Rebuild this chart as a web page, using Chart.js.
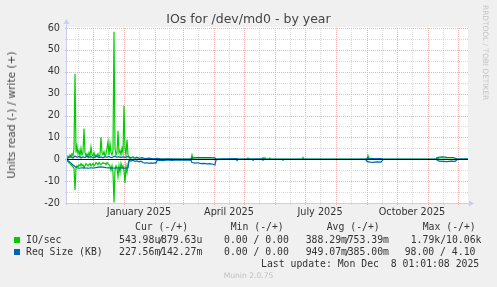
<!DOCTYPE html>
<html><head><meta charset="utf-8">
<script src="https://cdn.jsdelivr.net/npm/chart.js@4/dist/chart.umd.min.js"></script>
<style>
html,body{margin:0;padding:0;background:#f0f0f0;}
#wrap{position:relative;width:497px;height:287px;overflow:hidden;background:#f0f0f0;}
#c{position:absolute;left:0;top:0;}
.t{position:absolute;white-space:pre;margin:0;padding:0;}
</style></head><body>
<div id="wrap"><canvas id="c" width="497" height="287"></canvas></div>
<script>
// ---------- DATA (day index: 0 = left edge of graph, ~5 Nov 2024; 1 day per pixel) ----------
const xLabelDays = [72, 162, 253, 345];
const xLabels = ['January 2025', 'April 2025', 'July 2025', 'October 2025'];
const monthStartDays = [26, 57, 88, 116, 147, 177, 208, 238, 269, 300, 330, 361, 391];
const midMonthDays = [11, 41, 72, 102, 131, 162, 192, 223, 253, 284, 315, 345, 376];
const yTicks = [-20, -10, 0, 10, 20, 30, 40, 50, 60];
const yMinorTicks = [-15, -5, 5, 15, 25, 35, 45, 55];

// IO/sec write (+)
const ioWriteDays = [0,1,2,3,4,5,6,7,8,9,10,11,12,13,14,15,16,17,18,19,20,21,22,23,24,25,26,27,28,29,30,31,32,33,34,35,36,37,38,39,40,41,42,43,44,45,46,47,48,49,50,51,52,53,54,55,56,57,58,59,60,61,62,63,64,124,125,126,127,180,181,182,195,196,197,198,199,202,203,204,235,236,237,300,301,302,303,370,371,372,401];
const ioWriteVals = [0.5,1.5,0.8,2,1.2,2.5,1.5,5,39,3,6,2.5,4,1.5,5,2,3,14,3,1.5,2.5,1,3,1.5,5.5,2,1.5,3,1,2,1.5,2.5,1,2,10,3,2,3.5,1.5,2.5,5,8,2,7,3,2,4,58.3,5,2,3,13,3,4,2,5,3,24.5,5,2,9,2,1,0.3,0,0,2.0,0.2,0,0,0.6,0,0,0.8,0.3,0.7,0,0,0.6,0,0,0.8,0,0,1.7,0.2,0,0,0.5,0,0];
// IO/sec read (-)
const ioReadDays = [0,1,2,3,4,5,6,7,8,9,10,11,12,13,14,15,16,17,18,19,20,21,22,23,24,25,26,27,28,29,30,31,32,33,34,35,36,37,38,39,40,41,42,43,44,45,46,47,48,49,50,51,52,53,54,55,56,57,58,59,60,61,62,63,64,401];
const ioReadVals = [-0.5,-1,-1.5,-2,-2.5,-3,-3.5,-4,-14,-4,-3,-3.5,-2.5,-3,-2,-3,-2.5,-4,-3,-2,-2.5,-3,-2.5,-2,-3,-2.5,-2,-3,-2.5,-1.5,-2,-2.5,-1.5,-2,-2.5,-2,-1.5,-2,-1.8,-2.5,-1.5,-2,-2.5,-3,-5,-3,-6,-19.8,-5,-3,-4,-8,-3,-6,-2,-4,-3,-5,-11,-3,-6,-2,-1,-0.3,0,0];
// Req Size (KB) write (+)
const reqWriteDays = [0,2,4,6,8,10,12,14,16,18,20,22,24,26,28,30,32,34,36,38,40,42,44,46,48,50,52,54,56,58,60,62,64,66,68,70,72,75,78,82,86,90,95,100,110,124,125,130,136,142,148,149,170,171,196,197,299,300,308,315,316,369,370,375,380,386,390,401];
const reqWriteVals = [0.3,0.8,1.2,0.6,1.5,0.9,1.3,0.7,1.1,0.8,1.4,0.9,1.2,0.6,1.0,1.3,0.8,1.1,0.7,1.2,0.9,1.3,0.8,1.0,1.4,0.9,1.2,0.8,1.1,0.9,1.2,1.0,0.7,1.1,0.5,0.9,0.4,0.7,0.3,0.5,0.2,0.4,0.1,0.2,0.1,0.1,0.6,0.7,0.8,0.7,0.6,0.1,0.3,0,0.2,0,0.1,0.4,0.3,0.3,0,0.1,0.8,1.1,0.9,0.8,0.2,0.1];
// Req Size (KB) read (-)
const reqReadDays = [0,2,4,6,8,10,12,15,18,21,24,27,30,33,36,39,42,45,48,51,54,57,60,61,62,64,66,68,70,72,74,76,78,80,82,84,86,88,89,90,93,96,100,105,110,116,120,124,125,128,131,134,137,140,143,146,148,149,152,169,170,171,185,186,187,195,196,197,215,216,217,298,299,300,303,306,310,314,316,317,369,370,372,376,380,384,388,390,391,401];
const reqReadVals = [-0.3,-1.0,-1.8,-2.6,-3.3,-3.9,-4.1,-3.9,-4.0,-4.1,-3.9,-4.0,-3.7,-3.5,-3.6,-3.8,-3.9,-4.0,-4.1,-3.9,-4.0,-4.1,-4.0,-4.0,-0.5,-0.8,-0.4,-1.0,-0.8,-1.2,-0.9,-1.5,-1.8,-1.6,-1.9,-1.7,-1.9,-1.6,-1.8,-0.6,-0.4,-0.6,-0.3,-0.5,-0.3,-0.4,-0.3,-0.5,-1.5,-1.8,-1.6,-2.0,-1.9,-2.1,-2.0,-2.3,-2.6,-0.3,0,0,-0.6,0,0,-0.5,0,0,-0.4,0,0,-0.4,0,0,-0.3,-1.0,-1.3,-1.4,-1.2,-1.3,-0.2,0,0,-0.3,-0.9,-1.0,-1.1,-0.9,-1.0,-0.2,0,0];

// Legend texts
const titleText = 'IOs for /dev/md0 - by year';
const yTitle = 'Units read (-) / write (+)';
const legendHeaders = ['Cur (-/+)', 'Min (-/+)', 'Avg (-/+)', 'Max (-/+)'];
const seriesNames = ['IO/sec', 'Req Size (KB)'];
const curRead = ['543.98u', '227.56m'];
const curWrite = ['879.63u', '142.27m'];
const minText = ['0.00 / 0.00', '0.00 / 0.00'];
const avgRead = ['388.29m', '949.07m'];
const avgWrite = ['753.39m', '385.00m'];
const maxText = ['1.79k/10.06k', '98.00 / 4.10'];
const lastUpdate = 'Last update: Mon Dec  8 01:01:08 2025';
const footerText = 'Munin 2.0.75';
const sideText = 'RRDTOOL / TOBI OETIKER';

// ---------- STYLE ----------
const GREEN = '#00cc00', BLUE = '#0066b3';
const pts = (d, v) => d.map((x, i) => ({x: x, y: v[i]}));

const wrap = document.getElementById('wrap');
function addText(str, x, baseline, size, family, color, extra) {
  const d = document.createElement('div');
  d.className = 't';
  d.textContent = str;
  d.style.left = x + 'px';
  d.style.top = (baseline - 0.846 * size) + 'px';
  d.style.fontSize = size + 'px';
  d.style.lineHeight = size + 'px';
  d.style.fontFamily = family;
  d.style.color = color;
  if (extra) Object.assign(d.style, extra);
  wrap.appendChild(d);
  return d;
}
function addBox(x, y, color) {
  const d = document.createElement('div');
  d.style.cssText = 'position:absolute;left:' + x + 'px;top:' + y + 'px;width:6px;height:6px;background:' + color;
  wrap.appendChild(d);
}

const SANS = '"DejaVu Sans", sans-serif';
const MONO = '"DejaVu Sans Mono", monospace';
const TXT = '#333';

// title
const t = addText(titleText, 0, 24, 12.5, SANS, '#444');
t.style.width = '497px'; t.style.left = '0px'; t.style.textAlign = 'center';
// y axis title
const yt = document.createElement('div');
yt.className = 't';
yt.textContent = yTitle;
yt.style.cssText += 'left:11px;top:115px;font-size:10.6px;line-height:12px;font-family:' + SANS + ';color:#444;transform:translate(-50%,-50%) rotate(-90deg);';
wrap.appendChild(yt);
// side text
const st = document.createElement('div');
st.className = 't';
st.textContent = sideText;
st.style.cssText += 'left:481px;top:5px;font-size:7.4px;line-height:8px;font-family:' + SANS + ';color:#c4c4c4;writing-mode:vertical-rl;';
wrap.appendChild(st);

// legend
const headerX = [135, 230.7, 326.7, 422.7];
legendHeaders.forEach((h, i) => addText(h, headerX[i], 230.6, 9.8, MONO, TXT));
const rowBase = [242.8, 255];
const boxColors = [GREEN, BLUE];
const maxX = [410.7, 404.7];
for (let r = 0; r < 2; r++) {
  const b = rowBase[r];
  addBox(14, b - 5.8, boxColors[r]);
  addText(seriesNames[r], 26, b, 9.8, MONO, TXT);
  addText(curRead[r], 119, b, 9.8, MONO, TXT);
  addText('/', 158, b, 9.8, MONO, TXT);
  addText(curWrite[r], 161, b, 9.8, MONO, TXT);
  addText(minText[r], 224, b, 9.8, MONO, TXT);
  addText(avgRead[r], 305.7, b, 9.8, MONO, TXT);
  addText('/', 344.7, b, 9.8, MONO, TXT);
  addText(avgWrite[r], 347.7, b, 9.8, MONO, TXT);
  addText(maxText[r], maxX[r], b, 9.8, MONO, TXT);
}
addText(lastUpdate, 261, 267.2, 9.8, MONO, TXT);
const ft = addText(footerText, 0, 278.7, 7.6, SANS, '#c0c0c0');
ft.style.width = '497px'; ft.style.textAlign = 'center';

// ---------- PLUGINS ----------
const MAJ = '#eeb2b2', MIN = '#d9d9d9', AXIS = '#c9cff2';
const rrdGrid = {
  id: 'rrdGrid',
  beforeDatasetsDraw(chart) {
    const {ctx, chartArea: a, scales: {x, y}} = chart;
    ctx.save();
    ctx.fillStyle = '#ffffff';
    ctx.fillRect(a.left, a.top - 1, a.right - a.left, a.bottom - a.top + 1);
    ctx.lineWidth = 1;
    const hline = (v, col) => {
      const py = Math.round(y.getPixelForValue(v)) + 0.5;
      ctx.strokeStyle = col;
      ctx.setLineDash([1, 1]);
      ctx.beginPath(); ctx.moveTo(a.left, py); ctx.lineTo(a.right, py); ctx.stroke();
      ctx.setLineDash([]);
      ctx.beginPath(); ctx.moveTo(a.left - 2, py); ctx.lineTo(a.left + 1, py); ctx.stroke();
    };
    const vline = (v, col) => {
      const px = Math.round(x.getPixelForValue(v)) + 0.5;
      ctx.strokeStyle = col;
      ctx.setLineDash([1, 1]);
      ctx.beginPath(); ctx.moveTo(px, a.top); ctx.lineTo(px, a.bottom); ctx.stroke();
      ctx.setLineDash([]);
      ctx.beginPath(); ctx.moveTo(px, a.bottom - 1); ctx.lineTo(px, a.bottom + 2); ctx.stroke();
    };
    yMinorTicks.forEach(v => hline(v, MIN));
    midMonthDays.forEach(v => vline(v, MIN));
    yTicks.forEach(v => { if (v !== -20) hline(v, MAJ); });
    monthStartDays.forEach(v => vline(v, MAJ));
    // axes
    ctx.strokeStyle = AXIS; ctx.fillStyle = AXIS;
    const ax = Math.round(a.left) - 0.5, by = Math.round(a.bottom) + 0.5;
    ctx.beginPath(); ctx.moveTo(ax, a.bottom + 2); ctx.lineTo(ax, a.top - 4); ctx.stroke();
    ctx.beginPath(); ctx.moveTo(ax - 3, a.top - 4); ctx.lineTo(ax + 3, a.top - 4); ctx.lineTo(ax, a.top - 9); ctx.closePath(); ctx.fill();
    ctx.beginPath(); ctx.moveTo(a.left - 2, by); ctx.lineTo(a.right + 1, by); ctx.stroke();
    ctx.beginPath(); ctx.moveTo(a.right + 1, by - 3); ctx.lineTo(a.right + 1, by + 3); ctx.lineTo(a.right + 6, by); ctx.closePath(); ctx.fill();
    ctx.restore();
  },
  afterDatasetsDraw(chart) {
    const {ctx, chartArea: a, scales: {y}} = chart;
    const py = Math.round(y.getPixelForValue(0)) + 0.5;
    ctx.save();
    ctx.strokeStyle = '#000'; ctx.lineWidth = 1;
    ctx.beginPath(); ctx.moveTo(a.left, py); ctx.lineTo(a.right, py); ctx.stroke();
    ctx.restore();
  }
};

const lineDs = (label, data, color) => ({
  label, data, borderColor: color, backgroundColor: color,
  borderWidth: 1.2, pointRadius: 0, tension: 0, fill: false
});

new Chart(document.getElementById('c'), {
  type: 'line',
  data: {
    datasets: [
      lineDs('Req Size write', pts(reqWriteDays, reqWriteVals), BLUE),
      lineDs('Req Size read', pts(reqReadDays, reqReadVals), BLUE),
      lineDs('IO/sec write', pts(ioWriteDays, ioWriteVals), GREEN),
      lineDs('IO/sec read', pts(ioReadDays, ioReadVals), GREEN)
    ]
  },
  options: {
    responsive: false, animation: false, devicePixelRatio: 1,
    layout: {padding: {left: 0, right: 29, top: 28, bottom: 64}},
    plugins: {legend: {display: false}, tooltip: {enabled: false}, title: {display: false}},
    scales: {
      x: {
        type: 'linear', min: 0, max: 401,
        grid: {display: false, drawTicks: false}, border: {display: false},
        afterBuildTicks: s => { s.ticks = xLabelDays.map(v => ({value: v})); },
        afterFit: s => { s.height = 20; },
        ticks: {
          autoSkip: false, maxRotation: 0, padding: 4, color: TXT,
          font: {family: 'DejaVu Sans', size: 9.7},
          callback: (v, i) => xLabels[i]
        }
      },
      y: {
        type: 'linear', min: -20, max: 60,
        grid: {display: false, drawTicks: false}, border: {display: false},
        afterBuildTicks: s => { s.ticks = yTicks.map(v => ({value: v})); },
        afterFit: s => { s.width = 67; },
        ticks: {
          autoSkip: false, padding: 7, color: TXT,
          font: {family: 'DejaVu Sans', size: 9.7},
          callback: v => String(v)
        }
      }
    }
  },
  plugins: [rrdGrid]
});
</script>
</body></html>
